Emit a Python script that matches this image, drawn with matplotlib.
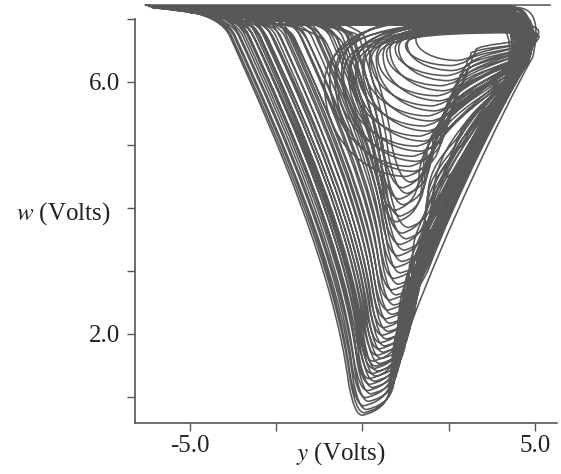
import matplotlib
matplotlib.use("Agg")
import matplotlib.pyplot as plt
from matplotlib.path import Path
from matplotlib.patches import PathPatch

# one entry per excursion of the trajectory (volts)
# lowest point of each loop
bottom_y = [0.00, 0.05, 0.12, 0.04, 0.18, 0.10, 0.25, 0.15, 0.30, 0.22,
            0.35, 0.20, 0.40, 0.28, 0.45, 0.33, 0.38, 0.50, 0.30, 0.55,
            0.42, 0.60, 0.48, 0.65, 0.52, 0.70, 0.58, 0.75, 0.62, 0.80,
            0.68, 0.86, 0.74, 0.92, 0.80, 0.98, 0.86, 1.04, 0.92, 1.10,
            0.98, 1.16, 1.04, 1.22, 1.10, 1.28, 1.16, 1.34,
            1.00, 1.10, 0.95, 1.20, 1.08, 1.30, 1.18, 1.40, 1.28, 1.50,
            1.38, 1.60, 1.48, 1.70, 1.58, 1.80, 1.68, 1.90, 1.80, 2.00,
            1.92, 2.12, 2.05, 2.25, 2.18, 2.38, 2.32, 2.50, 2.46, 2.62,
            2.60, 2.76]
bottom_w = [0.71, 0.75, 0.80, 0.86, 0.93, 0.99, 1.05, 1.10, 1.15, 1.20,
            1.25, 1.29, 1.33, 1.37, 1.41, 1.45, 1.49, 1.53, 1.57, 1.61,
            1.66, 1.71, 1.76, 1.81, 1.86, 1.92, 1.98, 2.04, 2.10, 2.17,
            2.24, 2.31, 2.38, 2.46, 2.54, 2.62, 2.70, 2.79, 2.88, 2.97,
            3.06, 3.15, 3.24, 3.33, 3.42, 3.51, 3.60, 3.69,
            3.78, 3.87, 3.96, 4.05, 4.14, 4.23, 4.32, 4.41, 4.50, 4.58,
            4.66, 4.74, 4.82, 4.90, 4.98, 5.06, 5.14, 5.22, 5.30, 5.38,
            5.46, 5.54, 5.62, 5.70, 5.78, 5.86, 5.94, 6.02, 6.10, 6.18,
            6.26, 6.34]
# y where the left branch leaves the top band
branch_y = [-3.84, -3.79, -3.68, -3.72, -3.54, -3.58, -3.39, -3.46, -3.28, -3.32,
            -3.16, -3.28, -3.06, -3.15, -2.96, -3.05, -2.97, -2.83, -3.00, -2.73,
            -2.82, -2.61, -2.70, -2.50, -2.59, -2.37, -2.46, -2.25, -2.34, -2.11,
            -2.19, -1.96, -2.04, -1.80, -1.87, -1.64, -1.71, -1.47, -1.53, -1.29,
            -1.35, -1.12, -1.18, -0.94, -1.00, -0.76, -0.82, -0.58,
            -0.70, -0.40, -0.55, -0.25, -0.45, -0.10, -0.30, 0.05, -0.44, -0.20,
            -0.30, -0.06, -0.15, 0.10, 0.00, 0.25, 0.16, 0.41, 0.34, 0.57,
            0.52, 0.74, 0.70, 0.92, 0.88, 1.11, 1.08, 1.30, 1.29, 1.48,
            1.50, 1.69]
# point where the right branch meets the right-hand edge
right_y = [4.94, 4.75, 4.72, 4.64, 4.76, 4.65, 4.58, 4.55, 4.78, 4.51,
           4.71, 4.43, 4.60, 4.60, 4.64, 4.40, 4.53, 4.86, 4.42, 4.82,
           4.42, 4.34, 4.70, 4.42, 4.60, 4.45, 4.60, 4.81, 4.24, 4.62,
           4.68, 4.47, 4.51, 4.45, 4.80, 4.41, 4.70, 4.35, 4.76, 4.36,
           4.34, 4.76, 4.35, 4.84, 4.36, 4.57, 4.38, 4.75,
           4.36, 4.28, 4.45, 4.26, 4.33, 4.44, 4.57, 4.18, 4.57, 4.25,
           4.65, 4.59, 4.51, 4.57, 4.66, 4.68, 4.53, 4.77, 4.72, 4.66,
           4.79, 4.84, 4.73, 4.86, 4.72, 4.95, 4.82, 4.94, 4.80, 5.03,
           4.90, 5.02]
right_w = [6.40, 6.30, 6.35, 6.20, 6.42, 6.25, 6.32, 6.15, 6.38, 6.22,
           6.28, 6.10, 6.36, 6.18, 6.30, 6.05, 6.26, 6.40, 6.12, 6.34,
           6.20, 6.02, 6.30, 6.16, 6.38, 6.08, 6.24, 6.32, 6.00, 6.22,
           6.36, 6.14, 6.28, 6.06, 6.40, 6.18, 6.26, 6.10, 6.34, 6.20,
           6.04, 6.30, 6.16, 6.38, 6.12, 6.24, 6.08, 6.32,
           6.20, 6.10, 6.30, 6.05, 6.25, 6.15, 6.35, 6.10, 6.28, 6.18,
           6.38, 6.22, 6.32, 6.26, 6.40, 6.30, 6.36, 6.44, 6.34, 6.42,
           6.48, 6.40, 6.46, 6.52, 6.50, 6.56, 6.54, 6.60, 6.58, 6.64,
           6.62, 6.68]
# leftmost reach of each loop, and the level of its pass along the top
turn_y = [-6.30, -6.10, -5.60, -6.20, -5.20, -5.90, -4.80, -5.50, -4.40, -6.00,
          -4.20, -5.30, -3.90, -5.00, -4.60, -3.80, -5.70, -3.60, -4.90, -4.10,
          -3.50, -4.70, -3.30, -4.30, -3.20, -5.10, -3.00, -4.50, -2.90, -3.70,
          -2.80, -4.00, -2.70, -3.40, -2.50, -3.10, -2.40, -3.60, -2.20, -2.80,
          -2.00, -3.30, -1.90, -2.60, -1.70, -2.30, -1.60, -2.00,
          -1.80, -3.00, -1.60, -2.40, -1.40, -4.50, -1.30, -2.00, -1.10, -0.80,
          -0.95, -0.60, -0.75, -0.40, -0.55, -0.20, -0.35, 0.00, -0.15, 0.20,
          0.05, 0.40, 0.25, 0.60, 0.45, 0.80, 0.70, 1.05, 0.95, 1.30,
          1.25, 1.55]
top_w = [7.22, 7.18, 7.16, 7.20, 7.16, 7.17, 7.12, 7.14, 7.15, 7.19,
         7.10, 7.13, 7.13, 7.10, 7.08, 6.96, 7.16, 7.04, 7.10, 7.02,
         7.06, 7.12, 6.98, 7.08, 7.02, 7.16, 6.92, 7.10, 7.00, 7.06,
         7.12, 7.04, 7.04, 7.14, 6.90, 7.08, 7.00, 7.12, 6.94, 7.06,
         7.10, 6.98, 7.04, 7.14, 6.92, 7.08, 7.02, 7.10,
         7.00, 7.12, 6.94, 7.06, 7.10, 7.08, 7.04, 7.14, 6.92, 7.08,
         7.02, 7.10, 6.96, 6.94, 6.86, 6.98, 6.84, 6.94, 6.82, 6.96,
         6.80, 6.92, 6.82, 6.90, 6.78, 6.94, 6.80, 6.88, 6.82, 6.86,
         6.80, 6.90]

x_ticks = [-5.0, -2.5, 0.0, 2.5, 5.0]
x_ticklabels = ["-5.0", "", "", "", "5.0"]
w_ticks = [1.0, 2.0, 3.0, 4.0, 5.0, 6.0, 7.0]
w_ticklabels = ["", "2.0", "", "", "", "6.0", ""]

line_color = "#585858"
axis_color = "#555555"
text_color = "#222222"


def edge_y(w):
    # straight part of the right-hand edge, as seen in the picture
    return 0.8 + 0.695 * (w - 1.27)


def loop_segments(i, start, next_wt):
    yb, wb = bottom_y[i], bottom_w[i]
    yk, yl, wt = branch_y[i], turn_y[i], top_w[i]
    yr, wr = right_y[i], right_w[i]
    f = min(1.0, max(0.35, (6.65 - wb) / 3.0))
    g = min(1.0, max(0.0, (wb - 3.0) / 2.0))
    a = (1 - g) * 0.4 + g * 0.45 * (yb - yk)
    h = (1 - g) * 0.5 * f + g * (0.25 * (6.65 - wb) + 0.1)
    b = (1 - g) * 0.8 + g * 1.1 * a
    c = (yb + b, wb + h)

    if wb < 4.45:
        # long excursion: along the top, sharp turn, straight left branch
        m = (yb - a, wb + h)
        kw = max(min(6.72, wt - 0.35), m[1] + 0.1)
        dx, dw = m[0] - yk, kw - m[1]
        verts = [(yl, wt),
                 (yl + 0.33 * (yk - yl), wt - 0.12 * (wt - kw)),
                 (yk - 0.1 * dx, kw + 0.075 * dw), (yk, kw),
                 (yk + 0.4 * dx, kw - 0.3 * dw), (m[0] - 0.12 * dx, m[1] + 0.32 * dw), m,
                 (yb - 0.6 * a, wb), (yb, wb)]
        codes = [Path.LINETO] + [Path.CURVE4] * 6 + [Path.CURVE3] * 2
    else:
        # small turn of the spiral: rounded loop, no sharp turn
        px = start[0]
        wl = wb + 0.6 * (wt - wb)
        verts = [(yl + 0.3 * (px - yl), wt), (yl, wl + 0.75 * (wt - wl)), (yl, wl),
                 (yl, wl - 0.55 * (wl - wb)), (yb - 0.55 * (yb - yl), wb), (yb, wb)]
        codes = [Path.CURVE4] * 6
    verts += [(yb + b, wb + 0.2 * h), c]
    codes += [Path.CURVE3] * 2

    sx, sw = c
    if c[1] + 1.0 < 5.3:
        # steep rise until the right branch meets the edge
        jw = c[1] + 1.0
        jx = edge_y(jw) - 1.2 * (4.95 - yr)
        verts += [(c[0] + 0.02, c[1] + 0.55), (jx - 0.14, jw - 0.2), (jx, jw)]
        codes += [Path.CURVE4] * 3
        sx, sw = jx, jw
        lead = (jx + 0.695 * 0.35 * (wr - jw), jw + 0.35 * (wr - jw))
    else:
        lead = (c[0] + 0.15, c[1] + 0.45 * (wr - c[1]))
    end = (yr - 0.5, next_wt)
    verts += [lead, (yr - 0.3 * (yr - sx), wr - 0.25 * (wr - sw)), (yr, wr),
              # round the top right and head back left
              (yr + 0.18, wr + 0.6 * (next_wt - wr)), (yr + 0.12, next_wt), end]
    codes += [Path.CURVE4] * 6
    return verts, codes, end


def main():
    plt.rcParams.update({
        "font.family": ["Liberation Serif", "DejaVu Serif"],
        "mathtext.fontset": "stix",
        "font.size": 18,
    })
    fig = plt.figure(figsize=(5.61, 4.74), dpi=100)
    ax = fig.add_axes([135 / 561, 1 - 423 / 474, 422 / 561, 423 / 474])

    start = (5.45, top_w[0])
    verts = [start]
    codes = [Path.MOVETO]
    n = len(bottom_w)
    for i in range(n):
        next_wt = top_w[i + 1] if i + 1 < n else top_w[i]
        v, c, start = loop_segments(i, start, next_wt)
        verts += v
        codes += c
    ax.add_patch(PathPatch(Path(verts, codes), fill=False, edgecolor=line_color,
                           linewidth=1.15, capstyle="round", joinstyle="round"))

    ax.set_xlim(-6.594, 5.64)
    ax.set_ylim(0.587, 7.30)
    ax.spines["top"].set_visible(False)
    ax.spines["right"].set_visible(False)
    ax.spines["left"].set_bounds(0.587, 7.0)
    for s in ("left", "bottom"):
        ax.spines[s].set_color(axis_color)
        ax.spines[s].set_linewidth(1.2)

    ax.set_xticks(x_ticks)
    ax.set_xticklabels(x_ticklabels)
    ax.set_yticks(w_ticks)
    ax.set_yticklabels(w_ticklabels)
    ax.tick_params(direction="out", length=6, width=1.0, color=axis_color,
                   labelcolor=text_color)
    ax.tick_params(axis="x", pad=3)
    ax.tick_params(axis="y", pad=5)

    fig.text(63 / 561, 1 - 214 / 474, "$w$ (Volts)", ha="center", va="center",
             color=text_color)
    fig.text(341 / 561, 1 - 454 / 474, "$y$ (Volts)", ha="center", va="center",
             color=text_color)

    fig.savefig("out.png", dpi=100)


if __name__ == "__main__":
    main()
